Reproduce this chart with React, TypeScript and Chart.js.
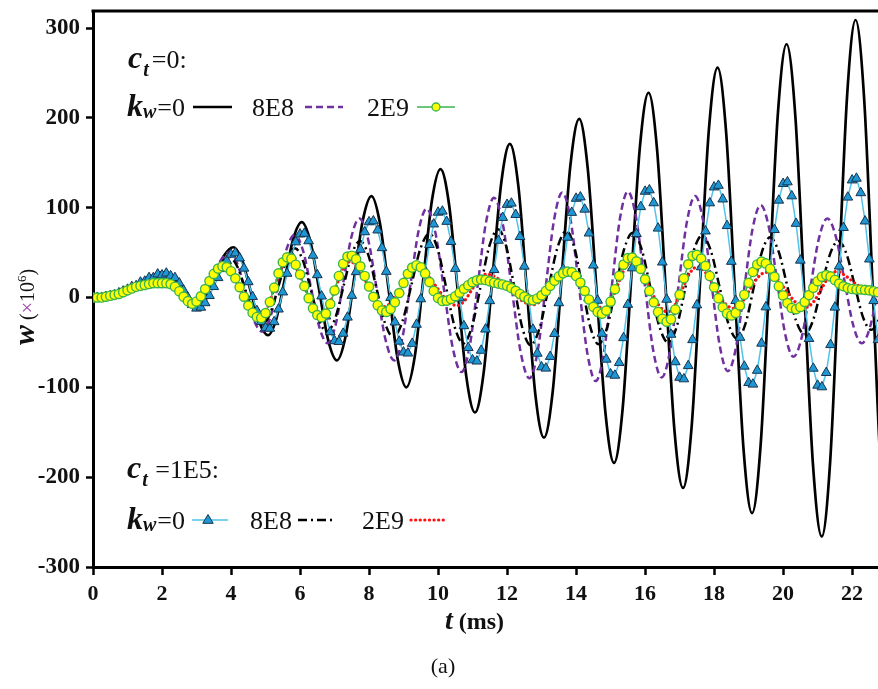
import React, { useEffect, useRef } from 'react';
import { Chart, registerables } from 'chart.js';

Chart.register(...registerables);

// ---------- axes ----------
const X_TICKS = [0, 2, 4, 6, 8, 10, 12, 14, 16, 18, 20, 22];
const Y_TICKS = [-300, -200, -100, 0, 100, 200, 300];
const X_MIN = 0;
const X_MAX = 22.75;
const Y_MIN = -300;
const Y_MAX = 319;

// ---------- ct = 0, kw = 0 (black solid) ----------
const T_CT0_KW0 = [0, 0.5, 1, 1.5, 2, 2.25, 2.5, 2.75, 2.95, 3.23, 3.51, 3.79, 4.07, 4.32, 4.57, 4.82, 5.07, 5.315, 5.56, 5.805, 6.05, 6.305, 6.56, 6.815, 7.07, 7.32, 7.57, 7.82, 8.07, 8.32, 8.575, 8.83, 9.08, 9.33, 9.575, 9.82, 10.07, 10.32, 10.57, 10.82, 11.07, 11.32, 11.575, 11.83, 12.08, 12.33, 12.575, 12.82, 13.07, 13.325, 13.58, 13.835, 14.09, 14.34, 14.595, 14.85, 15.1, 15.35, 15.6, 15.85, 16.1, 16.35, 16.6, 16.85, 17.1, 17.35, 17.6, 17.85, 18.1, 18.35, 18.6, 18.85, 19.1, 19.35, 19.6, 19.85, 20.1, 20.355, 20.61, 20.865, 21.12, 21.365, 21.61, 21.855, 22.1, 22.35, 22.6, 22.85, 23.1];
const W_CT0_KW0 = [0, 2, 10, 20, 28, 26, 14, 0, -10, -0.3, 23, 46.3, 56, 41.6, 7, -27.6, -42, -23.5, 21, 65.5, 84, 61.4, 7, -47.4, -70, -43.2, 21.5, 86.2, 113, 81.8, 6.5, -68.8, -100, -64.4, 21.5, 107.4, 143, 103.3, 7.5, -88.3, -128, -84.2, 21.5, 127.2, 171, 123.1, 7.5, -108.1, -156, -104, 21.5, 147, 199, 142.9, 7.5, -127.9, -184, -123.6, 22, 167.6, 228, 163.5, 8, -147.5, -212, -143.4, 22, 187.4, 256, 183.3, 8, -167.3, -240, -163.5, 21, 205.5, 282, 201.7, 8, -185.7, -266, -181.8, 21.5, 224.8, 309, 220.5, 7, -206.5, -295];

// ---------- ct = 0, kw = 8E8 (purple dashed) ----------
const T_CT0_KW8E8 = [0, 0.5, 1, 1.5, 2, 2.25, 2.5, 2.75, 2.95, 3.2, 3.45, 3.7, 3.95, 4.1875, 4.425, 4.6625, 4.9, 5.1375, 5.375, 5.6125, 5.85, 6.0875, 6.325, 6.5625, 6.8, 7.03, 7.26, 7.49, 7.72, 7.9725, 8.225, 8.4775, 8.73, 8.965, 9.2, 9.435, 9.67, 9.9225, 10.175, 10.4275, 10.68, 10.915, 11.15, 11.385, 11.62, 11.8775, 12.135, 12.3925, 12.65, 12.8875, 13.125, 13.3625, 13.6, 13.8425, 14.085, 14.3275, 14.57, 14.8025, 15.035, 15.2675, 15.5, 15.745, 15.99, 16.235, 16.48, 16.7225, 16.965, 17.2075, 17.45, 17.6875, 17.925, 18.1625, 18.4, 18.6375, 18.875, 19.1125, 19.35, 19.5875, 19.825, 20.0625, 20.3, 20.545, 20.79, 21.035, 21.28, 21.53, 21.78, 22.03, 22.28, 22.5225, 22.765, 23.0075, 23.25];
const W_CT0_KW8E8 = [0, 2, 10, 20, 28, 26, 14, 0, -10, -1.2, 20, 41.2, 50, 37.1, 6, -25.1, -38, -22.2, 16, 54.2, 70, 52.3, 9.5, -33.3, -51, -30.6, 18.5, 67.6, 88, 64.9, 9, -46.9, -70, -45.2, 14.5, 74.2, 99, 72.3, 8, -56.3, -83, -54.6, 14, 82.6, 111, 81.6, 10.5, -60.6, -90, -59.7, 13.5, 86.7, 117, 86.2, 12, -62.2, -93, -62.1, 12.5, 87.1, 118, 87.7, 14.5, -58.7, -89, -59.4, 12, 83.4, 113, 84.4, 15.5, -53.4, -82, -54.9, 10.5, 75.9, 103, 78.2, 18.5, -41.2, -66, -43.4, 11, 65.4, 88, 67.6, 18.5, -30.6, -51, -32.5, 12, 56.5, 75];

// ---------- ct = 1E5, kw = 8E8 (black dash-dot) ----------
const T_CT1E5_KW8E8 = [0, 0.5, 1, 1.5, 2, 2.25, 2.5, 2.75, 2.95, 3.2, 3.45, 3.7, 3.95, 4.1875, 4.425, 4.6625, 4.9, 5.1375, 5.375, 5.6125, 5.85, 6.0825, 6.315, 6.5475, 6.78, 7.02, 7.26, 7.5, 7.74, 7.98, 8.22, 8.46, 8.7, 8.9625, 9.225, 9.4875, 9.75, 9.995, 10.24, 10.485, 10.73, 10.9825, 11.235, 11.4875, 11.74, 11.975, 12.21, 12.445, 12.68, 12.94, 13.2, 13.46, 13.72, 13.9525, 14.185, 14.4175, 14.65, 14.8975, 15.145, 15.3925, 15.64, 15.8975, 16.155, 16.4125, 16.67, 16.915, 17.16, 17.405, 17.65, 17.905, 18.16, 18.415, 18.67, 18.9075, 19.145, 19.3825, 19.62, 19.87, 20.12, 20.37, 20.62, 20.865, 21.11, 21.355, 21.6, 21.8375, 22.075, 22.3125, 22.55, 22.8, 23.05];
const W_CT1E5_KW8E8 = [0, 2, 10, 19, 26, 25, 14, 0, -10, -1.9, 17.5, 36.9, 45, 34, 7.5, -19, -30, -17.5, 12.5, 42.5, 55, 41.4, 8.5, -24.4, -38, -23.2, 12.5, 48.2, 63, 47.3, 9.5, -28.3, -44, -27.2, 13.5, 54.2, 71, 53.1, 10, -33.1, -51, -32.4, 12.5, 57.4, 76, 57.1, 11.5, -34.1, -53, -34.4, 10.5, 55.4, 74, 55.5, 11, -33.5, -52, -33.8, 10, 53.8, 72, 54.1, 11, -32.1, -50, -32.6, 9.5, 51.6, 69, 52.2, 11.5, -29.2, -46, -29.4, 10.5, 50.4, 67, 51.2, 13, -25.2, -41, -25.8, 11, 47.8, 63, 48.5, 13.5, -21.5, -36, -21.9, 12];

// ---------- ct = 1E5, kw = 2E9 (red dotted) ----------
const T_CT1E5_KW2E9 = [0, 0.5, 1, 1.5, 2, 2.25, 2.5, 2.7, 2.85, 3.0825, 3.315, 3.5475, 3.78, 4.0475, 4.315, 4.5825, 4.85, 5.05, 5.25, 5.45, 5.65, 5.8925, 6.135, 6.3775, 6.62, 6.8275, 7.035, 7.2425, 7.45, 7.7, 7.95, 8.2, 8.45, 8.675, 8.9, 9.125, 9.35, 9.65, 9.95, 10.25, 10.55, 10.7625, 10.975, 11.1875, 11.4, 11.7375, 12.075, 12.4125, 12.75, 13, 13.25, 13.5, 13.75, 14.0125, 14.275, 14.5375, 14.8, 15, 15.2, 15.4, 15.6, 15.8625, 16.125, 16.3875, 16.65, 16.8625, 17.075, 17.2875, 17.5, 17.7625, 18.025, 18.2875, 18.55, 18.7875, 19.025, 19.2625, 19.5, 19.7875, 20.075, 20.3625, 20.65, 20.875, 21.1, 21.325, 21.55, 21.85, 22.15, 22.45, 22.75, 23];
const W_CT1E5_KW2E9 = [0, 2, 8, 14, 16, 15, 7, -3, -7, -1.1, 13, 27.1, 33, 25.1, 6, -13.1, -21, -11.9, 10, 31.9, 41, 32.4, 11.5, -9.4, -18, -9.5, 11, 31.5, 40, 32.7, 15, -2.7, -10, -3.7, 11.5, 26.7, 33, 26.8, 12, -2.8, -9, -3.9, 8.5, 20.9, 26, 21, 9, -3, -8, -3.2, 8.5, 20.2, 25, 19.6, 6.5, -6.6, -12, -4.5, 13.5, 31.5, 39, 31, 11.5, -8, -16, -8.7, 9, 26.7, 34, 27.3, 11, -5.3, -12, -6.1, 8, 22.1, 28, 22.3, 8.5, -5.3, -11, -5.1, 9, 23.1, 29, 23, 14, 8, 5, 3];

// ---------- marker series: sampled every 0.125 ms ----------
const T_MARK_STEP = 0.125;

// ct = 0, kw = 2E9 (green line, yellow circles)
const W_CT0_KW2E9 = [
  0, 0, 0, 1, 2, 3, 4, 6,
  8, 10, 12, 13, 14, 15, 16, 16,
  16, 16, 15, 12, 7, 1, -4, -7,
  -4.4, 1.4, 9.4, 18.3, 26.3, 32.2, 34.9, 33.9,
  29.3, 21.4, 11.5, 1, -8.9, -16.9, -21.7, -22.8,
  -17.3, -5, 11, 27, 39.2, 44.8, 43.3, 36.5,
  25.7, 12.7, -0.7, -12, -19.5, -22, -17.9, -7.1,
  7.9, 24, 37.6, 45.6, 46.6, 42.6, 34.7, 24,
  12.2, 0.8, -8.6, -14.4, -16, -12.7, -5.3, 5,
  16.3, 26.4, 33.4, 36, 33.7, 26.8, 17.2, 7.3,
  -0.4, -3.9, -3.5, -1.6, 1.5, 5.4, 9.7, 13.7,
  17.1, 19.2, 20, 19.5, 18, 16.5, 15.5, 14.5,
  13, 10.5, 7.5, 4, 1, -2, -3, -1,
  2.5, 7.4, 13, 18.6, 23.5, 27, 28.8, 28.3,
  24, 16.7, 7.4, -2.2, -10.4, -16, -18, -14.5,
  -4.6, 9.3, 24.2, 36.6, 43.9, 44.5, 40.2, 31.8,
  20.3, 7.4, -5.3, -16.1, -23.6, -26.9, -24.2, -13.3,
  3.2, 21.4, 37, 46.4, 47.6, 43.4, 35.2, 24,
  11.4, -0.8, -10.9, -17.7, -20, -17.1, -8.8, 3.1,
  16.4, 28.4, 36.8, 40, 38, 32.1, 23.1, 12.6,
  2.3, -6.2, -11.6, -13, -10.5, -4.9, 2.7, 10.9,
  18.2, 23.2, 25, 23.5, 19.5, 15.5, 12.5, 10.5,
  9.5, 9, 9, 8.5, 8, 7, 6, 5,
];

// ct = 1E5, kw = 0 (cyan line, blue triangles)
const W_CT1E5_KW0 = [
  0, 0, 0, 1, 2, 3, 5, 7,
  9, 12, 13, 17, 18, 22, 22, 26,
  25, 27, 24, 22, 16, 8, 0, -8,
  -12, -11, -6, 2, 12, 22, 32, 41,
  48, 49.5, 43.8, 32.5, 17.4, 0.9, -14.7, -26.9,
  -33.8, -34.4, -27.1, -13, 6, 26.8, 46.4, 61.8,
  70.5, 71.3, 63, 46.9, 25.2, 1.5, -20.8, -38.3,
  -48.3, -49.2, -40, -22, 2.2, 28.6, 53.5, 73,
  84.1, 85.1, 75, 55.3, 28.9, -0.1, -27.4, -48.8,
  -60.9, -62, -51.2, -30, -1.6, 29.5, 58.8, 81.7,
  94.8, 96, 84.6, 62.2, 32.2, -0.7, -31.6, -55.9,
  -69.6, -70.9, -58.9, -35.3, -3.7, 30.9, 63.5, 89,
  103.5, 104.9, 92.3, 67.7, 34.7, -1.5, -35.5, -62.2,
  -77.4, -78.8, -65.8, -40.2, -6, 31.6, 66.9, 94.6,
  110.3, 111.8, 98.2, 71.6, 35.9, -3.2, -40, -68.8,
  -85.2, -86.7, -72.6, -44.9, -7.8, 32.8, 71, 101,
  118.1, 119.7, 105.3, 77.1, 39.3, -2.1, -41.1, -71.7,
  -89, -90.7, -76, -47.1, -8.4, 34, 73.9, 105.2,
  122.9, 124.7, 109.5, 79.9, 40.1, -3.5, -44.5, -76.6,
  -94.9, -96.6, -81.2, -51, -10.6, 33.8, 75.5, 108.2,
  126.8, 128.6, 113, 82.4, 41.4, -3.5, -45.8, -78.9,
  -97.8, -99.6, -83.7, -52.6, -10.9, 34.8, 77.8, 111.6,
  130.7, 132.6, 116.5, 85, 42.7, -3.6, -47.1, -81.3,
];

// ---------- styling ----------
const SERIF = '"Liberation Serif", "Times New Roman", serif';
const C_BLACK = '#000000';
const C_PURPLE = '#7030a0';
const C_GREEN = '#3cb44b';
const C_YELLOW = '#ffff00';
const C_CYAN = '#4fc3ea';
const C_TRI = '#1e98d4';
const C_TRI_EDGE = '#17324d';
const C_RED = '#ff1010';

const pairs = (T: number[], W: number[]) => W.map((w, i) => ({ x: T[i], y: w }));
const stepPairs = (step: number, W: number[]) => W.map((w, i) => ({ x: i * step, y: w }));

type Run = { t: string; f: string; c?: string; dx?: number; dy?: number };

function drawRuns(ctx: CanvasRenderingContext2D, x: number, y: number, runs: Run[]) {
  let cx = x;
  for (const r of runs) {
    ctx.font = r.f;
    ctx.fillStyle = r.c || '#111';
    cx += r.dx || 0;
    ctx.fillText(r.t, cx, y + (r.dy || 0));
    cx += ctx.measureText(r.t).width;
  }
}

function drawTriangle(ctx: CanvasRenderingContext2D, x: number, y: number, r: number) {
  ctx.beginPath();
  ctx.moveTo(x, y - r);
  ctx.lineTo(x + r * 0.95, y + r * 0.6);
  ctx.lineTo(x - r * 0.95, y + r * 0.6);
  ctx.closePath();
  ctx.fillStyle = C_TRI;
  ctx.fill();
  ctx.strokeStyle = C_TRI_EDGE;
  ctx.lineWidth = 1;
  ctx.stroke();
}

const BI = (s: number) => `bold italic ${s}px ${SERIF}`;
const RG = (s: number) => `${s}px ${SERIF}`;
const BD = (s: number) => `bold ${s}px ${SERIF}`;

const decorPlugin = {
  id: 'decor',
  afterDraw(chart: any) {
    const { ctx, chartArea: a } = chart;
    ctx.save();
    ctx.textBaseline = 'alphabetic';
    ctx.textAlign = 'left';

    // top frame line
    ctx.strokeStyle = '#000';
    ctx.lineWidth = 3;
    ctx.setLineDash([]);
    ctx.beginPath();
    ctx.moveTo(a.left - 1.5, a.top);
    ctx.lineTo(a.right, a.top);
    ctx.stroke();

    // ---- legend block 1 ----
    drawRuns(ctx, 128, 68, [
      { t: 'c', f: BI(32) },
      { t: 't', f: BI(20), dy: 8, dx: 1 },
      { t: '=0:', f: RG(26), dx: 3 },
    ]);
    drawRuns(ctx, 127, 116, [
      { t: 'k', f: BI(32) },
      { t: 'w', f: BI(20), dy: 2 },
      { t: '=0', f: RG(26), dx: 1 },
    ]);
    drawRuns(ctx, 252, 116, [{ t: '8E8', f: RG(26) }]);
    drawRuns(ctx, 367, 116, [{ t: '2E9', f: RG(26) }]);

    ctx.lineWidth = 2.5;
    ctx.strokeStyle = C_BLACK;
    ctx.beginPath(); ctx.moveTo(193, 107); ctx.lineTo(232, 107); ctx.stroke();

    ctx.strokeStyle = C_PURPLE;
    ctx.setLineDash([7, 4]);
    ctx.beginPath(); ctx.moveTo(305, 107); ctx.lineTo(343, 107); ctx.stroke();
    ctx.setLineDash([]);

    ctx.strokeStyle = C_GREEN;
    ctx.lineWidth = 1.5;
    ctx.beginPath(); ctx.moveTo(417, 107); ctx.lineTo(455, 107); ctx.stroke();
    ctx.beginPath(); ctx.arc(436, 107, 4, 0, Math.PI * 2);
    ctx.fillStyle = C_YELLOW; ctx.fill();
    ctx.strokeStyle = C_GREEN; ctx.lineWidth = 1.3; ctx.stroke();

    // ---- legend block 2 ----
    drawRuns(ctx, 127, 478, [
      { t: 'c', f: BI(32) },
      { t: 't', f: BI(20), dy: 8, dx: 1 },
      { t: ' =1E5:', f: RG(26), dx: 1 },
    ]);
    drawRuns(ctx, 127, 529, [
      { t: 'k', f: BI(32) },
      { t: 'w', f: BI(20), dy: 2 },
      { t: '=0', f: RG(26), dx: 1 },
    ]);
    drawRuns(ctx, 250, 529, [{ t: '8E8', f: RG(26) }]);
    drawRuns(ctx, 362, 529, [{ t: '2E9', f: RG(26) }]);

    ctx.strokeStyle = C_CYAN;
    ctx.lineWidth = 1.5;
    ctx.beginPath(); ctx.moveTo(192, 520); ctx.lineTo(228, 520); ctx.stroke();
    drawTriangle(ctx, 208, 520, 5.5);

    ctx.strokeStyle = C_BLACK;
    ctx.lineWidth = 2.5;
    ctx.setLineDash([9, 4, 2, 4]);
    ctx.beginPath(); ctx.moveTo(298, 520); ctx.lineTo(336, 520); ctx.stroke();

    ctx.strokeStyle = C_RED;
    ctx.lineWidth = 3.2;
    ctx.lineCap = 'round';
    ctx.setLineDash([0.1, 4.5]);
    ctx.beginPath(); ctx.moveTo(411, 520); ctx.lineTo(446, 520); ctx.stroke();
    ctx.setLineDash([]);
    ctx.lineCap = 'butt';

    // ---- y axis title (rotated) ----
    ctx.save();
    ctx.translate(34, 300);
    ctx.rotate(-Math.PI / 2);
    drawRuns(ctx, -45, 0, [
      { t: 'w', f: BI(30) },
      { t: ' (', f: RG(20) },
      { t: '\u00d7', f: RG(20), c: '#9b3fa8' },
      { t: '10', f: RG(20) },
      { t: '6', f: RG(13), dy: -8 },
      { t: ')', f: RG(20) },
    ]);
    ctx.restore();

    // ---- x axis title ----
    drawRuns(ctx, 445, 629, [
      { t: 't', f: BI(28) },
      { t: ' (ms)', f: BD(24) },
    ]);

    // ---- caption ----
    ctx.font = RG(22);
    ctx.fillStyle = '#111';
    ctx.textAlign = 'center';
    ctx.fillText('(a)', 443, 673);

    ctx.restore();
  },
};

export default function App() {
  const ref = useRef<HTMLCanvasElement>(null);

  useEffect(() => {
    const canvas = ref.current;
    if (!canvas) return;

    const tickFont = { family: SERIF, size: 22, weight: 'bold' as const };

    const chart = new Chart(canvas, {
      type: 'line',
      data: {
        datasets: [
          {
            label: 'ct=0, kw=2E9',
            data: stepPairs(T_MARK_STEP, W_CT0_KW2E9),
            borderColor: C_GREEN,
            borderWidth: 1.5,
            pointStyle: 'circle',
            pointRadius: 4.6,
            pointBackgroundColor: C_YELLOW,
            pointBorderColor: C_GREEN,
            pointBorderWidth: 1.4,
            tension: 0,
            order: 0,
          },
          {
            label: 'ct=1E5, kw=0',
            data: stepPairs(T_MARK_STEP, W_CT1E5_KW0),
            borderColor: C_CYAN,
            borderWidth: 1.5,
            pointStyle: 'triangle',
            pointRadius: 5.6,
            pointBackgroundColor: C_TRI,
            pointBorderColor: C_TRI_EDGE,
            pointBorderWidth: 1,
            tension: 0,
            order: 1,
          },
          {
            label: 'ct=1E5, kw=2E9',
            data: pairs(T_CT1E5_KW2E9, W_CT1E5_KW2E9),
            borderColor: C_RED,
            borderWidth: 3.2,
            borderDash: [0.1, 4.5],
            borderCapStyle: 'round',
            pointRadius: 0,
            cubicInterpolationMode: 'monotone',
            order: 2,
          },
          {
            label: 'ct=1E5, kw=8E8',
            data: pairs(T_CT1E5_KW8E8, W_CT1E5_KW8E8),
            borderColor: C_BLACK,
            borderWidth: 2.5,
            borderDash: [9, 4, 2, 4],
            pointRadius: 0,
            cubicInterpolationMode: 'monotone',
            order: 3,
          },
          {
            label: 'ct=0, kw=8E8',
            data: pairs(T_CT0_KW8E8, W_CT0_KW8E8),
            borderColor: C_PURPLE,
            borderWidth: 2.5,
            borderDash: [7, 4],
            pointRadius: 0,
            cubicInterpolationMode: 'monotone',
            order: 4,
          },
          {
            label: 'ct=0, kw=0',
            data: pairs(T_CT0_KW0, W_CT0_KW0),
            borderColor: C_BLACK,
            borderWidth: 2.7,
            pointRadius: 0,
            cubicInterpolationMode: 'monotone',
            order: 5,
          },
        ] as any,
      },
      options: {
        animation: false,
        responsive: false,
        devicePixelRatio: 1,
        events: [],
        layout: { autoPadding: false, padding: { top: 11, left: 0, right: 0, bottom: 0 } },
        plugins: {
          legend: { display: false },
          tooltip: { enabled: false },
        },
        scales: {
          x: {
            type: 'linear',
            min: X_MIN,
            max: X_MAX,
            afterBuildTicks: (s: any) => {
              s.ticks = X_TICKS.map((v) => ({ value: v }));
            },
            afterFit: (s: any) => {
              s.height = 122;
              s.paddingLeft = 0;
              s.paddingRight = 0;
            },
            ticks: {
              font: tickFont,
              color: '#111',
              padding: 6,
              maxRotation: 0,
              autoSkip: false,
              callback: (v: any) => String(v),
            },
            grid: {
              display: true,
              drawOnChartArea: false,
              drawTicks: true,
              tickLength: 8,
              tickWidth: 2.5,
              tickColor: '#000',
            },
            border: { display: true, color: '#000', width: 3 },
          },
          y: {
            type: 'linear',
            min: Y_MIN,
            max: Y_MAX,
            afterBuildTicks: (s: any) => {
              s.ticks = Y_TICKS.map((v) => ({ value: v }));
            },
            afterFit: (s: any) => {
              s.width = 93;
              s.paddingTop = 0;
              s.paddingBottom = 0;
            },
            ticks: {
              font: { family: SERIF, size: 23, weight: 'bold' as const },
              color: '#111',
              padding: 6,
              autoSkip: false,
              callback: (v: any) => String(v),
            },
            grid: {
              display: true,
              drawOnChartArea: false,
              drawTicks: true,
              tickLength: 7,
              tickWidth: 2.5,
              tickColor: '#000',
            },
            border: { display: true, color: '#000', width: 3 },
          },
        },
      } as any,
      plugins: [decorPlugin],
    });

    return () => chart.destroy();
  }, []);

  return (
    <div style={{ position: 'absolute', left: 0, top: 0, width: 878, height: 689, background: '#fff' }}>
      <canvas ref={ref} width={878} height={689} style={{ display: 'block', width: 878, height: 689 }} />
    </div>
  );
}
